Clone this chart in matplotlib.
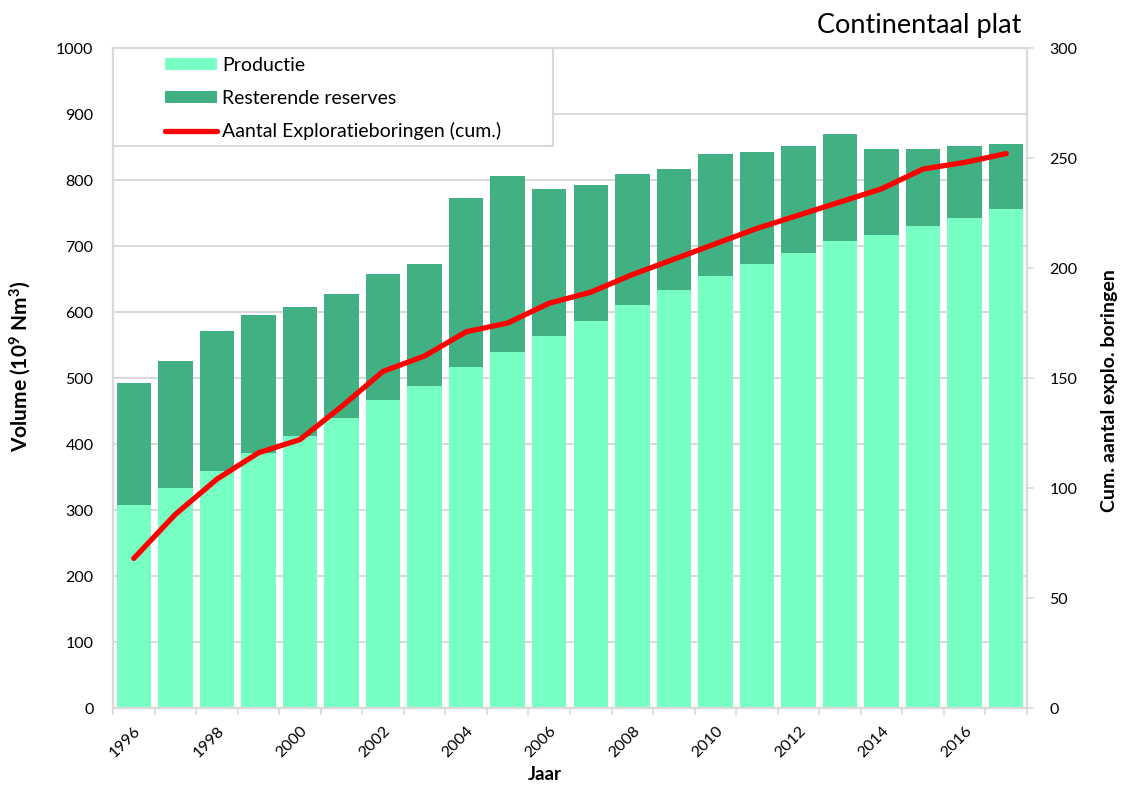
import numpy as np
import matplotlib.pyplot as plt
import matplotlib.transforms as mtransforms
from matplotlib.patches import Patch, Rectangle
from matplotlib.lines import Line2D

years = list(range(1996, 2018))
productie = [308, 334, 359, 387, 412, 440, 466, 488, 516, 539, 563,
             587, 611, 633, 654, 673, 690, 708, 716, 730, 743, 756]
reserves = [184, 192, 212, 208, 196, 188, 191, 185, 256, 267, 224,
            205, 198, 183, 185, 170, 162, 162, 131, 117, 108, 99]
boringen = [68, 88, 104, 116, 122, 137, 153, 160, 171, 175, 184,
            189, 197, 204, 211, 218, 224, 230, 236, 245, 248, 252]
label_years = [y for y in years if y % 2 == 0]

plt.rcParams['font.family'] = ['Lato', 'DejaVu Sans']
plt.rcParams['mathtext.fontset'] = 'custom'
plt.rcParams['mathtext.rm'] = 'Lato:bold'
plt.rcParams['mathtext.it'] = 'Lato:bold'
plt.rcParams['mathtext.bf'] = 'Lato:bold'

C_PROD = '#78FFC4'
C_RES = '#41B083'
C_LINE = '#FF0000'
C_GRID = '#D9D9D9'

W, H = 1126, 788
fig = plt.figure(figsize=(W / 100, H / 100), dpi=100)
ax = fig.add_axes([113 / W, 80 / H, 914 / W, 660 / H])
ax2 = ax.twinx()

x = np.arange(len(years))
ax.bar(x, productie, width=0.83, color=C_PROD, zorder=2)
ax.bar(x, reserves, width=0.83, bottom=productie, color=C_RES, zorder=2)

ax.set_xlim(-0.5, len(years) - 0.5)
ax.set_ylim(0, 1000)
ax.set_yticks(np.arange(0, 1001, 100))
ax.yaxis.grid(True, color=C_GRID, linewidth=1.5)
ax.set_axisbelow(True)
ax.tick_params(axis='y', length=0, pad=14, labelsize=11.5, colors='black')

# category boundaries carry the tick marks, labels sit at bar centres
ax.set_xticks(np.arange(-0.5, len(years), 1))
ax.set_xticklabels([])
ax.tick_params(axis='x', which='major', length=5, width=1.2, color=C_GRID)
ax.set_xticks([years.index(y) for y in label_years], minor=True)
ax.set_xticklabels([str(y) for y in label_years], minor=True,
                   rotation=45, ha='right', va='center', rotation_mode='anchor')
ax.tick_params(axis='x', which='minor', length=0, pad=15, labelsize=11.5)
shift = mtransforms.ScaledTranslation(5 / 100, 0, fig.dpi_scale_trans)
for lab in ax.get_xticklabels(minor=True):
    lab.set_transform(lab.get_transform() + shift)

for a in (ax, ax2):
    for s in a.spines.values():
        s.set_color(C_GRID)
        s.set_linewidth(1.5)

ax2.plot(x, boringen, color=C_LINE, linewidth=3.8, solid_capstyle='round',
         solid_joinstyle='round', zorder=3)
ax2.set_ylim(0, 300)
ax2.set_yticks(np.arange(0, 301, 50))
ax2.tick_params(axis='y', length=5, width=1.2, color=C_GRID, pad=11,
                labelsize=11.5, labelcolor='black')

# legend box in the upper-left corner of the plot area
ax2.add_patch(Rectangle((0, 1), (552 - 112) / 914, -(146 - 48) / 660,
                        transform=ax2.transAxes, facecolor='white',
                        edgecolor=C_GRID, linewidth=1.5, zorder=4,
                        clip_on=False))
handles = [Patch(facecolor=C_PROD, edgecolor='none'),
           Patch(facecolor=C_RES, edgecolor='none'),
           Line2D([], [], color=C_LINE, linewidth=3.8, solid_capstyle='round')]
labels = ['Productie', 'Resterende reserves', 'Aantal Exploratieboringen (cum.)']
leg = ax2.legend(handles, labels, loc='upper left',
                 bbox_to_anchor=(165 / W, 1 - 57 / H),
                 bbox_transform=fig.transFigure, frameon=False,
                 fontsize=14, borderpad=0, borderaxespad=0,
                 handlelength=2.65, handleheight=0.6, handletextpad=0.28,
                 labelspacing=0.8)
leg.set_zorder(5)

fig.text(1021 / W, 1 - 33 / H, 'Continentaal plat', ha='right', va='baseline',
         fontsize=19.5)
fig.text(20 / W, 1 - 366 / H, 'Volume (10$^{9}$ Nm$^{3}$)', rotation=90,
         ha='center', va='center', fontsize=15, fontweight='bold')
fig.text(1110 / W, 1 - 391 / H, 'Cum. aantal explo. boringen', rotation=90,
         ha='center', va='center', fontsize=14, fontweight='bold')
fig.text(545 / W, 1 - 775 / H, 'Jaar', ha='center', va='center',
         fontsize=13.5, fontweight='bold')

fig.savefig('out.png', dpi=100)
